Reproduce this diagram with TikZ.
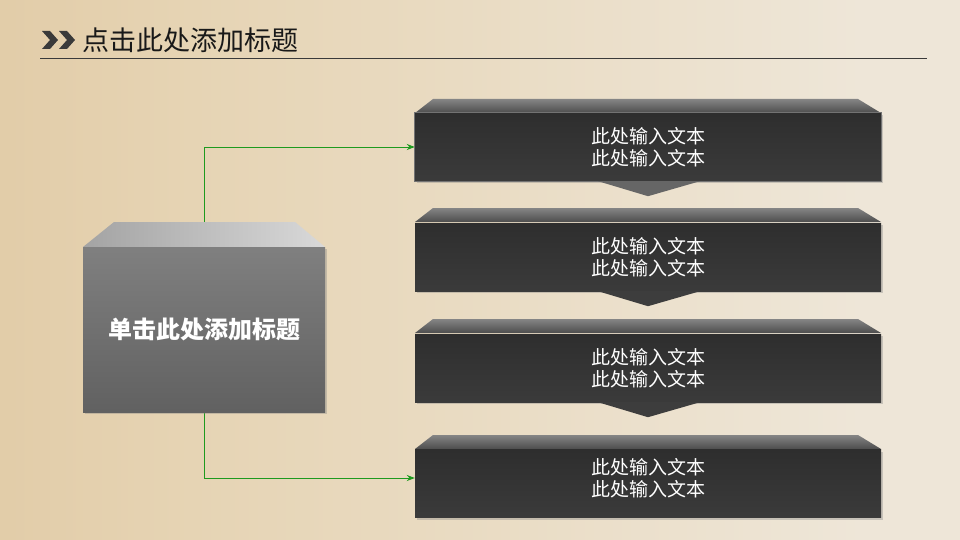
\documentclass[tikz,border=0pt]{standalone}
\usepackage{fontspec}
\newfontfamily\cjk{Noto Sans CJK SC}
\usetikzlibrary{arrows.meta,shadows}
\pgfdeclarelayer{paper}
\pgfdeclarelayer{wires}
\pgfsetlayers{paper,wires,main}
\definecolor{parchA}{HTML}{D8BA8C}
\definecolor{parchB}{HTML}{E6D4B4}
\definecolor{parchC}{HTML}{EEE6D8}
\definecolor{inkdark}{HTML}{3A3A3A}
\definecolor{wiregreen}{HTML}{1E9A1E}
\pgfdeclarehorizontalshading{parch}{100bp}{color(0bp)=(parchA); color(35bp)=(parchB); color(70bp)=(parchC); color(100bp)=(parchC)}
\begin{document}
\begin{tikzpicture}[x=1pt,y=-1pt,
  frontbox/.style={minimum width=466pt, minimum height=68pt, inner sep=0pt,
    top color=black!82, bottom color=black!77, text=white,
    font=\cjk\fontsize{19}{22}\selectfont, align=center,
    drop shadow={opacity=0.35, shadow xshift=1.5pt, shadow yshift=-2pt}},
  bevel/.style={top color=black!48, bottom color=black!70},
  chev/.style={fill=black!76},
  wire/.style={draw=wiregreen, line width=0.9pt, -{Stealth[length=8pt,width=6pt]}},
  titlebox/.style={minimum width=242pt, minimum height=165pt, inner sep=0pt,
    top color=black!50, bottom color=black!62, text=white,
    font=\cjk\bfseries\fontsize{24}{28}\selectfont,
    drop shadow={opacity=0.35, shadow xshift=1.5pt, shadow yshift=-2pt}}]
\useasboundingbox (0,0) rectangle (960,540);
\begin{pgfonlayer}{paper}
  \shade[shading=parch] (0,0) rectangle (960,540);
\end{pgfonlayer}

% title
\fill[inkdark] (42,31) -- (50,31) -- (58,40) -- (50,49) -- (42,49) -- (50,40) -- cycle;
\fill[inkdark] (59,31) -- (67,31) -- (75,40) -- (67,49) -- (59,49) -- (67,40) -- cycle;
\node[anchor=west, inner sep=0pt, text=black!90, font=\cjk\fontsize{27}{30}\selectfont] (title) at (82,40) {点击此处添加标题};
\draw[inkdark, line width=0.8pt] (40,58) -- (927,58);

% left box
\shade[left color=black!36, right color=black!15] (114,222) -- (295,222) -- (325,247) -- (83,247) -- cycle;
\node[titlebox] (L) at (204,329.5) {单击此处添加标题};
\coordinate (Ltop) at (204,222);

% right boxes
\foreach \n/\yt/\yb in {1/99/113, 2/208/222, 3/319/333, 4/435/449}{
  \shade[bevel] (433,\yt) -- (858,\yt) -- (881,\yb) -- (415,\yb) -- cycle;
}
\node[frontbox] (B1) at (648,147) {此处输入文本\\此处输入文本};
\node[frontbox] (B2) at (648,257) {此处输入文本\\此处输入文本};
\node[frontbox] (B3) at (648,368) {此处输入文本\\此处输入文本};
\node[frontbox] (B4) at (648,483.5) {\raisebox{1pt}[0pt][0pt]{\parbox{140pt}{\centering 此处输入文本\\此处输入文本}}};
\draw[black!55, line width=0.8pt] (B1.north west) rectangle (B1.south east);

\fill[black!60] (B1.south -| 598,0) -- (B1.south -| 700,0) -- ([yshift=-15pt]B1.south) -- cycle;
\fill[chev] (B2.south -| 598,0) -- (B2.south -| 700,0) -- ([yshift=-15pt]B2.south) -- cycle;
\fill[chev] (B3.south -| 598,0) -- (B3.south -| 700,0) -- ([yshift=-15pt]B3.south) -- cycle;

% connectors
\begin{pgfonlayer}{wires}
  \draw[wire] (Ltop) |- (B1.west);
  \draw[wire] (L.south) |- ([yshift=5.5pt]B4.west);
\end{pgfonlayer}
\end{tikzpicture}
\end{document}
